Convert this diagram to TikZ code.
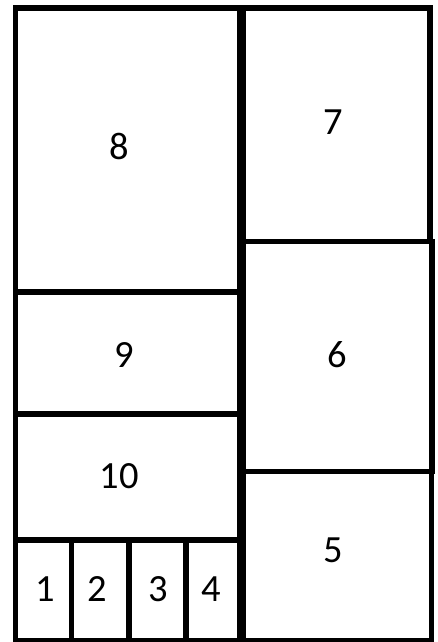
\documentclass[tikz,border=0pt]{standalone}
\usepackage{fontspec}
\setmainfont{Carlito}
\begin{document}
\begin{tikzpicture}[x=1pt,y=-1pt,
  cell/.style={draw=black,line width=5.5pt,fill=white},
  num/.style={inner sep=0pt,font=\fontsize{38.5}{40}\selectfont}]
\useasboundingbox[fill=white] (0,0) rectangle (437,642);
% right column
\draw[cell] (243,8) rectangle (430,241.5);
\draw[cell] (243.5,241.5) rectangle (432,471.5);
\draw[cell] (243.5,471.5) rectangle (431.5,640.5);
% left column
\draw[cell] (15.5,8) rectangle (239.5,292);
\draw[cell] (15.5,292) rectangle (239.5,414);
\draw[cell] (15.5,414) rectangle (239.5,540);
\draw[cell] (15.5,540) rectangle (71.5,640.5);
\draw[cell] (71.5,540) rectangle (129,640.5);
\draw[cell] (129,540) rectangle (186,640.5);
\draw[cell] (186,540) rectangle (240,640.5);
% labels
\node[num] (n8) at (119,146) {8};
\node[num] (n7) at (333.5,122.5) {7};
\node[num] (n9) at (124.5,355) {9};
\node[num] (n6) at (337,355) {6};
\node[num] (n10) at (119,476.5) {10};
\node[num] (n5) at (333.5,550.5) {5};
\node[num] (n1) at (45.5,589) {1};
\node[num] (n2) at (97.5,589) {2};
\node[num] (n3) at (158,589) {3};
\node[num] (n4) at (211,589) {4};
\end{tikzpicture}
\end{document}
